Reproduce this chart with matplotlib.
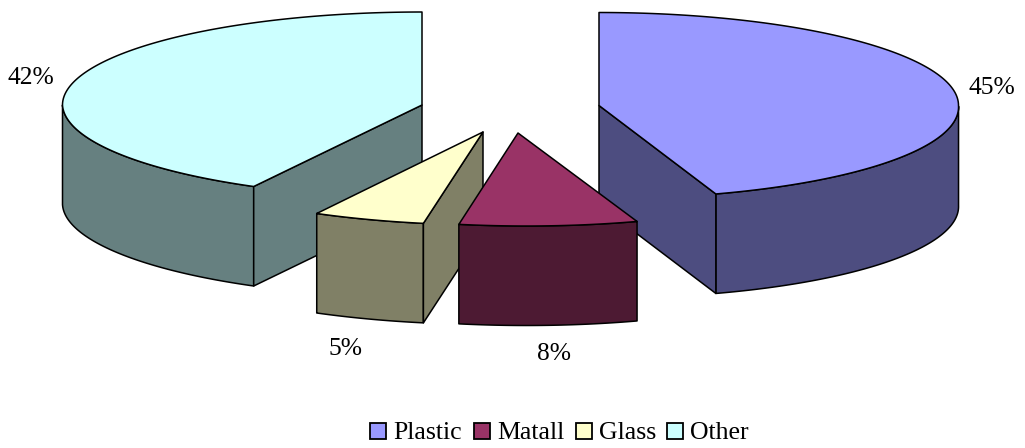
import numpy as np
import matplotlib.pyplot as plt
from matplotlib.patches import Polygon, Rectangle

plt.rcParams['font.family'] = ['Liberation Serif', 'DejaVu Serif']

labels = ['Plastic', 'Matall', 'Glass', 'Other']
shares = [45, 8, 5, 42]
top_colors = ['#9999FF', '#993366', '#FFFFCC', '#CCFFFF']
side_colors = ['#4D4D80', '#4D1A33', '#808066', '#668080']

# apex of each exploded slice, in pixels
apex_x = [599, 518, 483, 422]
apex_y = [105.5, 133, 132, 105]
label_x = [992, 554, 346, 31]
label_y = [88, 354, 349, 78]

# which radial cut shows: 0 = first edge, -1 = last edge, None = hidden
cut_edge = [-1, None, 0, 0]
# front of the disc leans right a little, like a rotated 3D view
lean = [0.065, 0.09, 0.085, 0.06]

rx, ry = 359.5, 93
depth = 99.5

fig = plt.figure(figsize=(10.25, 4.48), dpi=100)
ax = fig.add_axes([0, 0, 1, 1])
ax.set_xlim(0, 1025)
ax.set_ylim(448, 0)
ax.axis('off')

# slice angles run clockwise from 12 o'clock
edges = 90 - 3.6 * np.concatenate([[0], np.cumsum(shares)])


def draw_slice(i):
    cx, cy = apex_x[i], apex_y[i]
    t = np.radians(np.linspace(edges[i], edges[i + 1], 300))
    ys = cy - ry * np.sin(t)
    xs = cx + rx * np.cos(t) + lean[i] * np.clip(ys - cy, 0, None)
    line = dict(edgecolor='black', linewidth=1.1, joinstyle='round')

    # outer wall, only the part facing the viewer
    front = ys >= cy
    fx, fy = xs[front], ys[front]
    wall = np.column_stack([np.r_[fx, fx[::-1]], np.r_[fy, fy[::-1] + depth]])
    ax.add_patch(Polygon(wall, facecolor=side_colors[i], **line))

    k = cut_edge[i]
    if k is not None:
        face = [(cx, cy), (xs[k], ys[k]), (xs[k], ys[k] + depth), (cx, cy + depth)]
        ax.add_patch(Polygon(face, facecolor=side_colors[i], **line))

    top = np.column_stack([np.r_[cx, xs], np.r_[cy, ys]])
    ax.add_patch(Polygon(top, facecolor=top_colors[i], **line))


for i in (3, 0, 2, 1):
    draw_slice(i)

for i in range(len(labels)):
    ax.text(label_x[i], label_y[i], f'{shares[i]}%', fontsize=18.4,
            ha='center', va='center', color='black')

# legend row
legend_x = [370, 474, 576, 667]
for i in range(len(labels)):
    ax.add_patch(Rectangle((legend_x[i], 423), 16, 16, facecolor=top_colors[i],
                           edgecolor='black', linewidth=1.3))
    ax.text(legend_x[i] + 23, 439, labels[i], fontsize=18.6, ha='left', va='baseline')

fig.savefig('out.png', dpi=100)
